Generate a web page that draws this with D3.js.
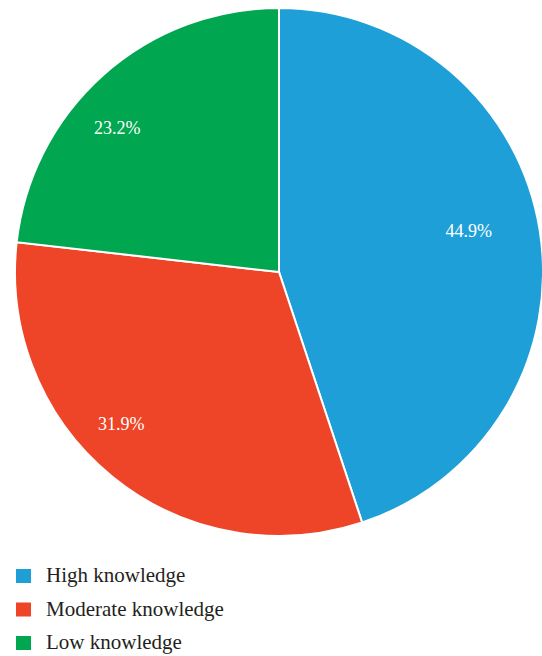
<!DOCTYPE html>
<html><head><meta charset="utf-8">
<script src="https://cdn.jsdelivr.net/npm/d3@7"></script>
<style>body{margin:0;background:#fff}svg{display:block}</style>
</head><body>
<svg id="chart" width="542" height="656"></svg>
<script>
const categories = ["High knowledge", "Moderate knowledge", "Low knowledge"];
const values = [44.9, 31.9, 23.2];
const colors = ["#1f9fd8", "#ee4427", "#00a650"];

const FONT = "Liberation Serif";
const svg = d3.select("#chart");
const cx = 279, cy = 272, r = 264;
// label placement (layout only): radius factor and angular shift per slice
const labelLayout = [{k: 0.735, shift: -3}, {k: 0.83, shift: 7}, {k: 0.82, shift: -6.6}];
const g = svg.append("g").attr("transform", `translate(${cx},${cy})`);
const pie = d3.pie().sort(null).value(d => d)(values);
const arc = d3.arc().innerRadius(0).outerRadius(r);
g.selectAll("path").data(pie).enter().append("path")
  .attr("d", arc).attr("fill", (d, i) => colors[i])
  .attr("stroke", "#fff").attr("stroke-width", 2);
g.selectAll("text").data(pie).enter().append("text")
  .attr("transform", (d, i) => {
    const a = (d.startAngle + d.endAngle) / 2 + labelLayout[i].shift * Math.PI / 180;
    const rr = r * labelLayout[i].k;
    return `translate(${Math.sin(a) * rr},${-Math.cos(a) * rr})`;
  })
  .attr("text-anchor", "middle").attr("dy", "0.35em")
  .attr("fill", "#fff").attr("font-family", FONT).attr("font-size", 18)
  .style("font-family", "'Liberation Serif'", "important")
  .text(d => d.data.toFixed(1) + "%");

const leg = svg.append("g").attr("transform", "translate(16,569)");
const items = leg.selectAll("g").data(categories).enter().append("g")
  .attr("transform", (d, i) => `translate(0,${i * 33.5})`);
items.append("rect").attr("width", 15).attr("height", 14).attr("fill", (d, i) => colors[i]);
items.append("text").attr("x", 30).attr("y", 13)
  .attr("fill", "#231f20").attr("font-family", FONT).attr("font-size", 21)
  .style("font-family", "'Liberation Serif'", "important")
  .text(d => d);
</script>
</body></html>
